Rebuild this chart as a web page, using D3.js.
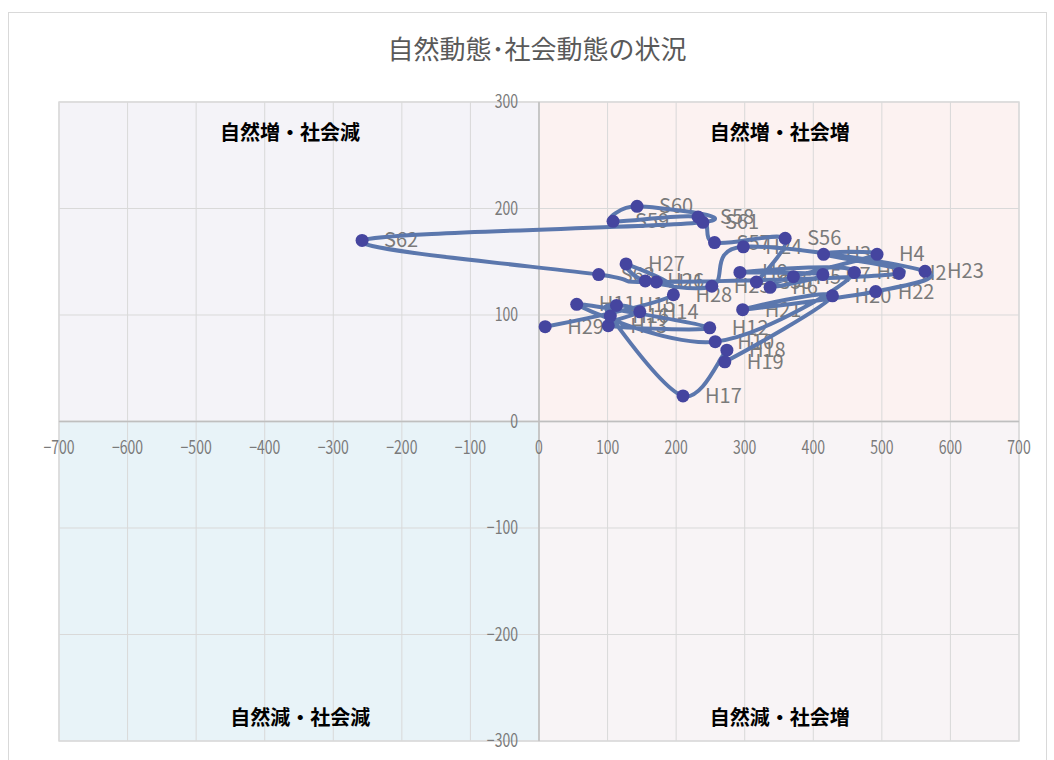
<!DOCTYPE html>
<html lang="ja">
<head>
<meta charset="utf-8">
<script src="https://cdn.jsdelivr.net/npm/d3@7"></script>
<style>
  html, body { margin: 0; padding: 0; background: #ffffff; }
  svg { display: block; font-family: "Noto Sans CJK JP", "Noto Sans", sans-serif; }
</style>
</head>
<body>
<svg id="chart" width="1054" height="760"></svg>
<script>
// 年次ラベル（昭和55年〜平成29年）
const years = [
  "S55","S56","S57","S58","S59","S60","S61","S62","S63",
  "H1","H2","H3","H4","H5","H6","H7","H8","H9","H10",
  "H11","H12","H13","H14","H15","H16","H17","H18","H19","H20",
  "H21","H22","H23","H24","H25","H26","H27","H28","H29"
];
// 社会動態（転入−転出）
const socialChange = [
  317, 359, 256, 232, 108, 143, 239, -258, 87,
  171, 525, 415, 493, 371, 337, 414, 293, 460, 257,
  55, 249, 101, 147, 113, 104, 210, 274, 271, 428,
  297, 491, 563, 298, 252, 155, 127, 196, 9
];
// 自然動態（出生−死亡）
const naturalChange = [
  131, 172, 168, 192, 188, 202, 187, 170, 138,
  131, 139, 157, 157, 136, 126, 138, 140, 140, 75,
  110, 88, 90, 103, 109, 99, 24, 67, 56, 118,
  105, 122, 141, 164, 127, 132, 148, 119, 89
];
const xTicks = [-700,-600,-500,-400,-300,-200,-100,0,100,200,300,400,500,600,700];
const yTicks = [-300,-200,-100,0,100,200,300];
const quadrantNames = ["自然増・社会減","自然増・社会増","自然減・社会減","自然減・社会増"];

const svg = d3.select("#chart");
const x = d3.scaleLinear().domain([-700, 700]).range([59, 1019]);
const y = d3.scaleLinear().domain([-300, 300]).range([741, 102]);

// chart frame
svg.append("rect")
  .attr("x", 8.5).attr("y", 12.5).attr("width", 1038).attr("height", 770)
  .attr("fill", "#fff").attr("stroke", "#d9d9d9");

// title
svg.append("text")
  .attr("x", 537).attr("y", 59)
  .attr("text-anchor", "middle")
  .attr("font-size", 26)
  .attr("fill", "#595959")
  .text("自然動態･社会動態の状況");

// quadrant backgrounds
const quads = [
  {x0: -700, x1: 0, y0: 0, y1: 300, fill: "#f4f3f8"},
  {x0: 0, x1: 700, y0: 0, y1: 300, fill: "#fcf2f1"},
  {x0: -700, x1: 0, y0: -300, y1: 0, fill: "#e8f3f8"},
  {x0: 0, x1: 700, y0: -300, y1: 0, fill: "#f8f4f6"}
];
svg.append("g").selectAll("rect").data(quads).join("rect")
  .attr("x", d => x(d.x0)).attr("y", d => y(d.y1))
  .attr("width", d => x(d.x1) - x(d.x0))
  .attr("height", d => y(d.y0) - y(d.y1))
  .attr("fill", d => d.fill)
  .attr("stroke", "#dcdcdc").attr("stroke-width", 1.5);

// gridlines
const grid = svg.append("g").attr("stroke", "#d9d9d9").attr("stroke-width", 1);
grid.selectAll(".gx").data(xTicks).join("line")
  .attr("x1", d => x(d)).attr("x2", d => x(d))
  .attr("y1", y(300)).attr("y2", y(-300));
grid.selectAll(".gy").data(yTicks).join("line")
  .attr("x1", x(-700)).attr("x2", x(700))
  .attr("y1", d => y(d)).attr("y2", d => y(d));

// axis lines through the origin
svg.append("line")
  .attr("x1", x(-700)).attr("x2", x(700)).attr("y1", y(0)).attr("y2", y(0))
  .attr("stroke", "#bfbfbf").attr("stroke-width", 1.5);
svg.append("line")
  .attr("x1", x(0)).attr("x2", x(0)).attr("y1", y(300)).attr("y2", y(-300))
  .attr("stroke", "#bfbfbf").attr("stroke-width", 1.5);

// tick labels (narrow numerals)
const fmt = d3.format("d");
svg.append("g").selectAll("text").data(xTicks).join("text")
  .attr("transform", d => `translate(${x(d)},${y(0) + 32}) scale(0.78,1)`)
  .attr("text-anchor", "middle")
  .attr("font-size", 18).attr("fill", "#7a7a7a")
  .text(d => fmt(d));
svg.append("g").selectAll("text").data(yTicks).join("text")
  .attr("transform", d => `translate(${x(0) - 21},${y(d) + 6}) scale(0.78,1)`)
  .attr("text-anchor", "end")
  .attr("font-size", 18).attr("fill", "#7a7a7a")
  .text(d => fmt(d));

// quadrant captions
const capPos = [
  {cx: -363, cy: 133}, {cx: 351, cy: 133}, {cx: -348, cy: 718}, {cx: 351, cy: 718}
];
svg.append("g").selectAll("text").data(quadrantNames).join("text")
  .attr("x", (d, i) => x(capPos[i].cx))
  .attr("y", (d, i) => capPos[i].cy + 7)
  .attr("text-anchor", "middle")
  .attr("font-size", 20).attr("font-weight", "bold").attr("fill", "#000")
  .text(d => d);

// series points
const pts = years.map((name, i) => ({name, sx: socialChange[i], ny: naturalChange[i]}));

// data labels (to the right of each point)
svg.append("g").selectAll("text").data(pts).join("text")
  .attr("x", d => x(d.sx) + 22).attr("y", d => y(d.ny) + 7)
  .attr("font-size", 20).attr("fill", "#7a7a7a")
  .text(d => d.name);

// connecting line
const line = d3.line()
  .x(d => x(d.sx)).y(d => y(d.ny))
  .curve(d3.curveCatmullRom.alpha(0));
svg.append("path")
  .datum(pts)
  .attr("d", line)
  .attr("fill", "none")
  .attr("stroke", "#5b77ad")
  .attr("stroke-width", 4)
  .attr("stroke-linejoin", "round")
  .attr("stroke-linecap", "round");

// markers
svg.append("g").selectAll("circle").data(pts).join("circle")
  .attr("cx", d => x(d.sx)).attr("cy", d => y(d.ny))
  .attr("r", 6.5)
  .attr("fill", "#45459f");
</script>
</body>
</html>
